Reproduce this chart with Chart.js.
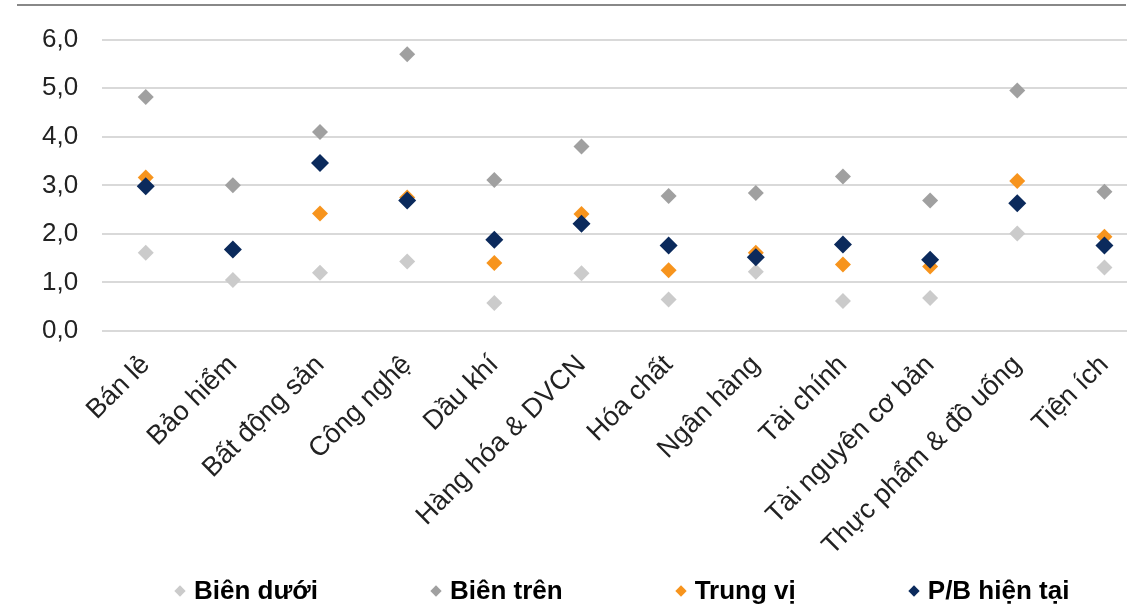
<!DOCTYPE html>
<html>
<head>
<meta charset="utf-8">
<script src="https://cdn.jsdelivr.net/npm/chart.js@4"></script>
<style>
  body { margin: 0; background: #fff; overflow: hidden; }
  #wrap { position: relative; width: 1135px; height: 607px; overflow: hidden; }
  #topLine { position: absolute; left: 17px; top: 4px; width: 1109px; height: 2px; background: #888; }
  #gridEnd { position: absolute; left: 1127px; top: 20px; width: 30px; height: 320px; background: #fff; }
  #legend { position: absolute; left: 174px; top: 575px; display: flex; gap: 112px;
            font: bold 26px 'Liberation Sans', Arial, sans-serif; color: #000; }
  #legend .item { display: flex; align-items: center; white-space: nowrap; }
  #legend .mark { width: 8px; height: 8px; transform: rotate(45deg); margin: 0 10px 0 2px; }
</style>
</head>
<body>
<div id="wrap">
  <div id="topLine"></div>
  <!-- canvas a bit wider than the frame: the last category runs past the right edge like the original -->
  <canvas id="pbChart" width="1157" height="607"></canvas>
  <div id="gridEnd"></div>
  <div id="legend"></div>
</div>
<script>
// Sectors (x axis)
const sectors = ['Bán lẻ', 'Bảo hiểm', 'Bất động sản', 'Công nghệ', 'Dầu khí', 'Hàng hóa & DVCN',
    'Hóa chất', 'Ngân hàng', 'Tài chính', 'Tài nguyên cơ bản', 'Thực phẩm & đồ uống', 'Tiện ích'];

// P/B values
const lowerBand = [1.61, 1.05, 1.20, 1.43, 0.58, 1.19, 0.65, 1.22, 0.62, 0.68, 2.01, 1.31];
const upperBand = [4.82, 3.00, 4.10, 5.70, 3.11, 3.80, 2.78, 2.84, 3.18, 2.69, 4.95, 2.87];
const median = [3.16, 1.68, 2.42, 2.75, 1.40, 2.41, 1.25, 1.61, 1.37, 1.33, 3.09, 1.94];
const currentPB = [2.98, 1.68, 3.46, 2.69, 1.88, 2.21, 1.76, 1.52, 1.78, 1.47, 2.63, 1.76];

const yTicks = [0, 1, 2, 3, 4, 5, 6];

function pointSet(label, data, color, radius) {
    return {
        label,
        data,
        showLine: false,
        pointStyle: 'rectRot',
        pointRadius: radius,
        pointHoverRadius: radius,
        backgroundColor: color,
        borderColor: color,
        borderWidth: 0,
    };
}

const ctx = document.getElementById('pbChart').getContext('2d');

// datasets listed top-most first (Chart.js paints index 0 last)
const chart = new Chart(ctx, {
    type: 'line',
    data: {
        labels: sectors,
        datasets: [
            pointSet('P/B hiện tại', currentPB, '#0b2a5c', 9),
            pointSet('Trung vị', median, '#f7941d', 8),
            pointSet('Biên trên', upperBand, '#a0a0a0', 8),
            pointSet('Biên dưới', lowerBand, '#cbcbcb', 8),
        ],
    },
    options: {
        responsive: false,
        animation: false,
        layout: { padding: { left: 18, right: 0, top: 26, bottom: 35 } },
        scales: {
            x: {
                offset: true,
                grid: { display: false },
                border: { display: false },
                ticks: {
                    color: '#222',
                    font: { family: 'Liberation Sans, Arial', size: 27 },
                    minRotation: 45,
                    maxRotation: 45,
                    padding: 10,
                },
            },
            y: {
                min: 0,
                max: 6,
                afterBuildTicks: (axis) => { axis.ticks = yTicks.map(v => ({ value: v })); },
                grid: { color: '#d9d9d9', lineWidth: 2, drawTicks: false },
                border: { display: false },
                ticks: {
                    color: '#222',
                    font: { family: 'Liberation Sans, Arial', size: 26 },
                    padding: 24,
                    callback: (v) => Number(v).toFixed(1).replace('.', ','),
                },
            },
        },
        plugins: {
            legend: { display: false },
            tooltip: { enabled: false },
        },
    },
});

// legend in the reference order, built from the datasets
const legendEl = document.getElementById('legend');
chart.data.datasets.slice().reverse().forEach((ds) => {
    const item = document.createElement('div');
    item.className = 'item';
    const mark = document.createElement('span');
    mark.className = 'mark';
    mark.style.background = ds.backgroundColor;
    item.appendChild(mark);
    item.appendChild(document.createTextNode(ds.label));
    legendEl.appendChild(item);
});
</script>
</body>
</html>
